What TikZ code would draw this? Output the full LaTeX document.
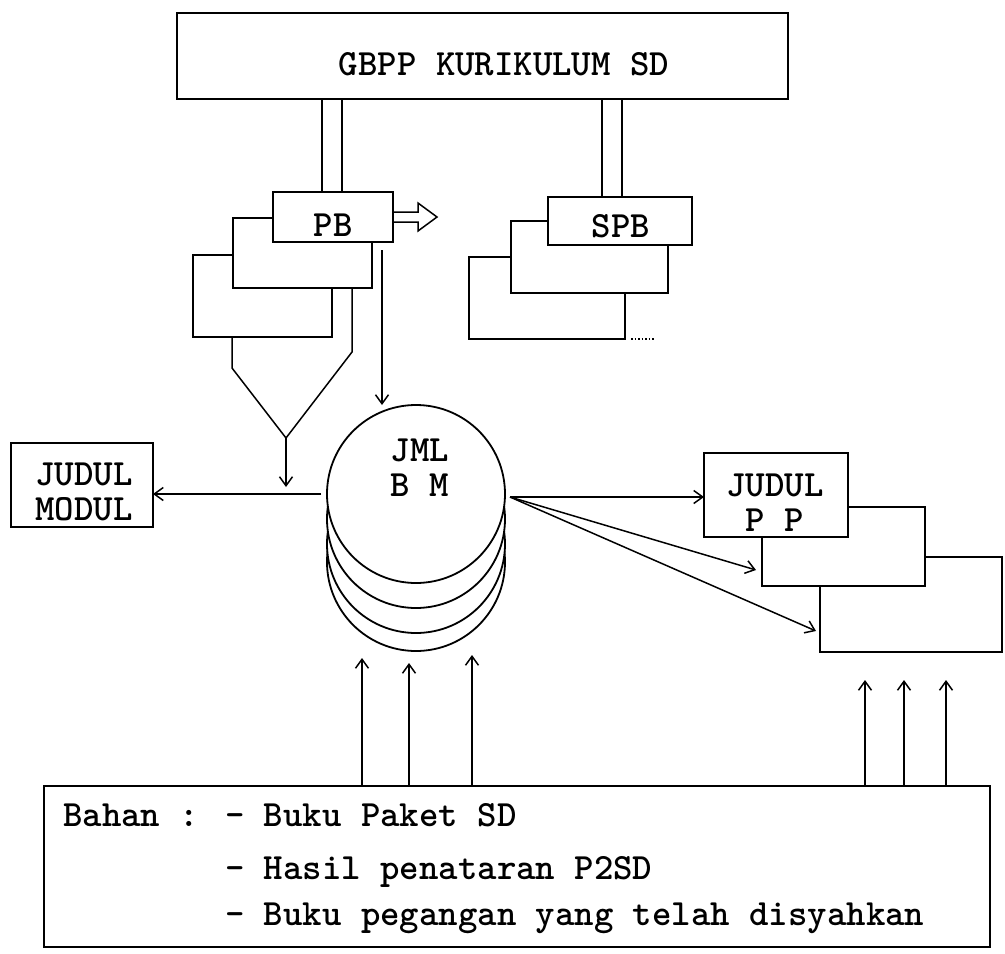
\documentclass[tikz,border=0pt]{standalone}
\usepackage{fontspec}
\usetikzlibrary{arrows.meta}
\begin{document}
\begin{tikzpicture}[x=1pt,y=-1pt,
  box/.style={draw, line width=2pt, fill=white, inner sep=0pt, outer sep=0pt},
  conn/.style={line width=1.5pt},
  arr/.style={line width=1.5pt, -{Straight Barb[length=9pt,width=13pt]}},
  lbl/.style={font=\ttfamily\bfseries\fontsize{37}{44}\selectfont, inner sep=0pt},
  txt/.style={font=\ttfamily\bfseries\fontsize{37}{44}\selectfont, inner sep=0pt},
  disk/.style={circle, draw, line width=1.8pt, fill=white, minimum size=178pt, inner sep=0pt, outer sep=0pt}]
\fill[white] (0,0) rectangle (1005,954);
\useasboundingbox (0,0) rectangle (1005,954);

% top box
\node[box, minimum width=611pt, minimum height=86pt] (gbpp) at (482.5,56) {};
\node[lbl] (gbppt) at (504,64) {GBPP KURIKULUM SD};

% PB stack
\node[box, minimum width=139pt, minimum height=82pt] (pb3) at (262.5,296) {};
\node[box, minimum width=139pt, minimum height=70pt] (pb2) at (302.5,253) {};
\node[box, minimum width=120pt, minimum height=50pt] (pb) at (333,217) {};
\node[lbl] (pbt) at (333,225) {PB};

% SPB stack
\node[box, minimum width=156pt, minimum height=82pt] (spb3) at (547,298) {};
\node[box, minimum width=157pt, minimum height=72pt] (spb2) at (589.5,257) {};
\node[box, minimum width=144pt, minimum height=48pt] (spb) at (620,221) {};
\node[lbl] (spbt) at (621,226) {SPB};

% JUDUL PP stack
\node[box, minimum width=182pt, minimum height=95pt] (pp3) at (911,604.5) {};
\node[box, minimum width=163pt, minimum height=79pt] (pp2) at (843.5,546.5) {};
\node[box, minimum width=144pt, minimum height=84pt] (pp) at (776,495) {};
\node[lbl] (ppt1) at (775,485) {JUDUL};
\node[lbl] (ppt2) at (775,520) {P P};

% JUDUL MODUL
\node[box, minimum width=142pt, minimum height=84pt] (modul) at (82,485) {};
\node[lbl] (modt1) at (84,474) {JUDUL};
\node[lbl] (modt2) at (84,509) {MODUL};

% stacked disks
\node[disk] (bm4) at (416,562) {};
\node[disk] (bm3) at (416,544) {};
\node[disk] (bm2) at (416,519) {};
\node[disk] (bm) at (416,494) {};
\node[lbl] (bmt1) at (420,450) {JML};
\node[lbl] (bmt2) at (420,485) {B M};

% bottom box
\node[box, minimum width=946pt, minimum height=161pt] (bahan) at (517,866.5) {};
\node[txt, anchor=base west] (t1) at (63,826) {Bahan : - Buku Paket SD};
\node[txt, anchor=base west] (t2) at (63,879) {\phantom{Bahan : }- Hasil penataran P2SD};
\node[txt, anchor=base west] (t3) at (63,925) {\phantom{Bahan : }- Buku pegangan yang telah disyahkan};

% double connectors from GBPP
\coordinate (l1) at (322,0);
\coordinate (l2) at (342,0);
\coordinate (r1) at (602,0);
\coordinate (r2) at (622,0);
\draw[conn] (gbpp.south -| l1) -- (pb.north -| l1);
\draw[conn] (gbpp.south -| l2) -- (pb.north -| l2);
\draw[conn] (gbpp.south -| r1) -- (spb.north -| r1);
\draw[conn] (gbpp.south -| r2) -- (spb.north -| r2);

% hollow arrow from PB
\draw[conn] (pb.east) ++(0,-5) -- ++(25,0) -- ++(0,-9) -- ++(19,14) -- ++(-19,14) -- ++(0,-9) -- ++(-25,0);

% funnel
\coordinate (fl) at (232,368);
\coordinate (fr) at (352,352);
\coordinate (apex) at (286,438);
\coordinate (ftip) at (286,487);
\draw[conn] (fl |- pb3.south) -- (fl) -- (apex) -- (fr) -- (fr |- pb2.south);
\draw[arr] (apex) -- (ftip);

% PB down arrow
\coordinate (pbs) at (382,250);
\coordinate (pbe) at (382,405);
\draw[arr] (pbs) -- (pbe);

% to JUDUL MODUL
\draw[arr] ([xshift=-6pt]bm.west) -- (modul.east |- bm.west);

% fan to JUDUL PP
\coordinate (fan) at (510,497);
\draw[arr] (fan) -- (pp.west |- fan);
\draw[arr] (fan) -- ([xshift=-6pt,yshift=16pt]pp2.south west);
\draw[arr] (fan) -- ([xshift=-4pt,yshift=21pt]pp3.south west);

% dots after SPB stack
\draw[dotted, line width=1.5pt] ([xshift=6pt]spb3.south east) -- ++(24,0);

% up arrows from bottom box
\coordinate (ua1) at (362,658);
\coordinate (ua2) at (409,663);
\coordinate (ua3) at (472,655);
\coordinate (ub1) at (865,680);
\coordinate (ub2) at (904,680);
\coordinate (ub3) at (946,680);
\foreach \c in {ua1,ua2,ua3,ub1,ub2,ub3}
  \draw[arr] (bahan.north -| \c) -- (\c);
\end{tikzpicture}
\end{document}
